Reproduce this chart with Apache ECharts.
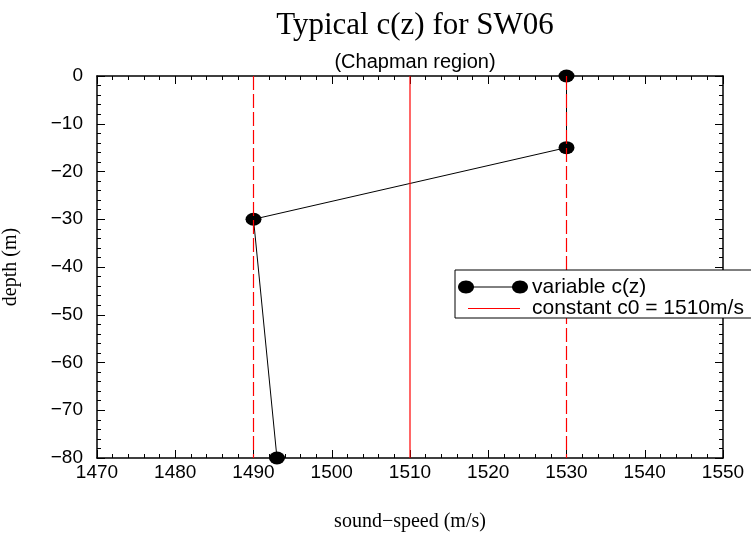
<!DOCTYPE html>
<html>
<head>
<meta charset="utf-8">
<title>Typical c(z) for SW06</title>
<script src="https://cdn.jsdelivr.net/npm/echarts@6/dist/echarts.min.js"></script>
<style>
	html, body { margin: 0; padding: 0; background: #fff; }
	#main_chart { width: 751px; height: 540px; }
</style>
</head>
<body>
<div id="main_chart"></div>
<script>
// profile
var speedVals = [1530, 1530, 1490, 1493];
var depthVals = [0, -15, -30, -80];
var c0 = 1510;
var cBounds = [1490, 1530];
var depthRange = [0, -80];
var speedRange = [1470, 1550];
var legendNames = ["variable c(z)", "constant c0 = 1510m/s"];

var SANS = "Liberation Sans, Arial, sans-serif";
var SERIF = "Liberation Serif, Times New Roman, serif";
var RED = '#ff0000';

makeChart();

function pairUp(xs, ys) {
	var out = [];
	for (var i = 0; i < xs.length; i++) {
		out.push([xs[i], ys[i]]);
	}
	return out;
}

function vLine(x) {
	return [[x, depthRange[0]], [x, depthRange[1]]];
}

function plainNum(v) {
	// no thousands separator, real minus sign
	return String(v).replace('-', '\u2212');
}

function makeXAxis(pos, showLabels) {
	return {
		type: 'value',
		position: pos,
		min: speedRange[0],
		max: speedRange[1],
		interval: 10,
		name: showLabels ? 'sound\u2212speed (m/s)' : '',
		nameLocation: 'middle',
		nameGap: 54,
		nameTextStyle: { fontFamily: SERIF, fontSize: 20, color: '#000' },
		axisLine: { show: true, onZero: false, lineStyle: { color: '#000', width: 1.5 } },
		axisTick: { show: true, inside: true, length: 8, lineStyle: { color: '#000' } },
		minorTick: { show: true, splitNumber: 5, length: 4, lineStyle: { color: '#000' } },
		axisLabel: { show: showLabels, fontFamily: SANS, fontSize: 19, color: '#000', margin: 5, formatter: plainNum },
		splitLine: { show: false }
	};
}

function makeYAxis(pos, showLabels) {
	return {
		type: 'value',
		position: pos,
		min: depthRange[1],
		max: depthRange[0],
		interval: 10,
		name: showLabels ? 'depth (m)' : '',
		nameLocation: 'middle',
		nameGap: 76,
		nameTextStyle: { fontFamily: SERIF, fontSize: 20, color: '#000' },
		axisLine: { show: true, onZero: false, lineStyle: { color: '#000', width: 1.5 } },
		axisTick: { show: true, inside: true, length: 8, lineStyle: { color: '#000' } },
		minorTick: { show: true, splitNumber: 5, length: 4, lineStyle: { color: '#000' } },
		axisLabel: { show: showLabels, fontFamily: SANS, fontSize: 19, color: '#000', margin: 14, formatter: plainNum },
		splitLine: { show: false }
	};
}

function makeLegend() {
	// legend box sits on top of everything, incl. the right axis
	var lx = 455, ly = 270, Z = 100;
	return [
		{ type: 'rect', z: Z, shape: { x: lx, y: ly, width: 320, height: 48 },
			style: { fill: '#fff', stroke: '#000', lineWidth: 1 } },
		{ type: 'line', z: Z + 1, shape: { x1: lx + 11, y1: ly + 17, x2: lx + 65, y2: ly + 17 },
			style: { stroke: '#000', lineWidth: 1 } },
		{ type: 'ellipse', z: Z + 2, shape: { cx: lx + 11, cy: ly + 17, rx: 8, ry: 6.5 }, style: { fill: '#000' } },
		{ type: 'ellipse', z: Z + 2, shape: { cx: lx + 65, cy: ly + 17, rx: 8, ry: 6.5 }, style: { fill: '#000' } },
		{ type: 'text', z: Z + 1, x: lx + 77, y: ly + 17,
			style: { text: legendNames[0], fontFamily: SANS, fontSize: 21, fill: '#000', verticalAlign: 'middle' } },
		{ type: 'line', z: Z + 1, shape: { x1: lx + 13, y1: ly + 38.5, x2: lx + 65, y2: ly + 38.5 },
			style: { stroke: RED, lineWidth: 1 } },
		{ type: 'text', z: Z + 1, x: lx + 77, y: ly + 38,
			style: { text: legendNames[1], fontFamily: SANS, fontSize: 21, fill: '#000', verticalAlign: 'middle' } }
	];
}

function makeChart() {
	var chart = echarts.init(document.getElementById('main_chart'), null, { renderer: 'canvas' });

	var redSeries = function(x, dashed) {
		return {
			type: 'line',
			data: vLine(x),
			symbol: 'none',
			z: 5,
			silent: true,
			color: RED,
			itemStyle: { color: RED },
			lineStyle: { color: RED, width: 1.2, type: dashed ? [14, 4] : 'solid' }
		};
	};

	var option = {
		animation: false,
		backgroundColor: '#fff',
		title: [{
			text: 'Typical c(z) for SW06',
			left: 410,
			top: 5,
			textAlign: 'center',
			textStyle: { fontFamily: SERIF, fontSize: 31, fontWeight: 'normal', color: '#000' }
		}, {
			text: '(Chapman region)',
			left: 410,
			top: 47,
			textAlign: 'center',
			textStyle: { fontFamily: SANS, fontSize: 20, fontWeight: 'normal', color: '#000' }
		}],
		grid: { left: 97, right: 28, top: 76, bottom: 82, containLabel: false, outerBoundsMode: 'none' },
		xAxis: [makeXAxis('bottom', true), makeXAxis('top', false)],
		yAxis: [makeYAxis('left', true), makeYAxis('right', false)],
		series: [{
			name: legendNames[0],
			type: 'line',
			data: pairUp(speedVals, depthVals),
			symbol: 'circle',
			symbolSize: [16, 13],
			clip: false,
			z: 3,
			itemStyle: { color: '#000' },
			lineStyle: { color: '#000', width: 1 }
		},
		redSeries(c0, false),
		redSeries(cBounds[0], true),
		redSeries(cBounds[1], true)],
		graphic: { z: 100, elements: makeLegend() }
	};

	chart.setOption(option);
}
</script>
</body>
</html>
